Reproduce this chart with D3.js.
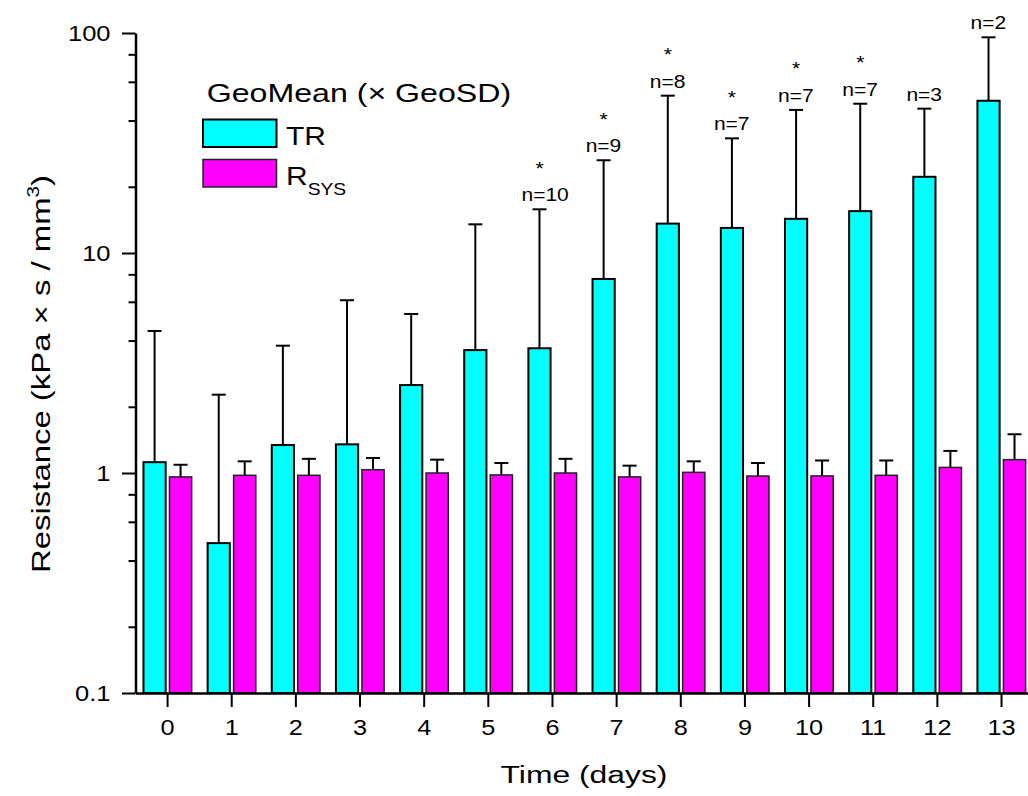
<!DOCTYPE html>
<html>
<head>
<meta charset="utf-8">
<script src="https://cdnjs.cloudflare.com/ajax/libs/d3/7.8.5/d3.min.js"></script>
<style>
body { margin: 0; background: #fff; }
svg { display: block; }
text { font-family: "Liberation Sans", Arial, sans-serif; fill: #000; }
</style>
</head>
<body>
<script>
// categories (days) and the two series
var days = [0, 1, 2, 3, 4, 5, 6, 7, 8, 9, 10, 11, 12, 13];
var trMean = [1.12, 0.48, 1.34, 1.35, 2.51, 3.62, 3.69, 7.62, 13.6, 13.0, 14.3, 15.5, 22.2, 49.2];
var trUpper = [4.42, 2.27, 3.79, 6.1, 5.28, 13.5, 15.8, 26.4, 51.9, 33.2, 44.7, 47.7, 45.3, 95.6];
var rsysMean = [0.96, 0.976, 0.976, 1.035, 1.0, 0.98, 1.0, 0.96, 1.007, 0.969, 0.97, 0.976, 1.06, 1.15];
var rsysUpper = [1.09, 1.13, 1.16, 1.17, 1.15, 1.11, 1.16, 1.08, 1.13, 1.11, 1.14, 1.14, 1.26, 1.5];
// annotations above the TR bars
var nLabels = ["", "", "", "", "", "", "n=10", "n=9", "n=8", "n=7", "n=7", "n=7", "n=3", "n=2"];
var starred = [false, false, false, false, false, false, true, true, true, true, true, true, false, false];
var seriesNames = ["TR", "RSYS"];
var seriesColors = ["#00ffff", "#ff00ff"];
var yMajorTicks = [0.1, 1, 10, 100];
var yMinorTicks = [0.2, 0.4, 0.6, 0.8, 2, 4, 6, 8, 20, 40, 60, 80];

var width = 1028;
var height = 796;
var plotLeft = 135.5;
var plotRight = 1033.6;
var plotTop = 33;
var plotBottom = 693;

var svg = d3.select("body")
			.append("svg")
			.attr("width", width)
			.attr("height", height);

var x0 = d3.scaleBand()
		   .domain(days)
		   .range([plotLeft, plotRight])
		   .padding(0);

var x1 = d3.scaleBand()
		   .domain(seriesNames)
		   .range([0, x0.bandwidth()])
		   .paddingInner(0.146)
		   .paddingOuter(0.307);

var y = d3.scaleLog()
		  .domain([0.1, 100])
		  .range([plotBottom, plotTop]);

var rows = days.map(function(d, i) {
	return {
		day: d,
		values: [
			{ key: "TR", mean: trMean[i], upper: trUpper[i] },
			{ key: "RSYS", mean: rsysMean[i], upper: rsysUpper[i] }
		]
	};
});

// text that is a bit wider than the font, like the original
function wideText(parent, x, yy, sx, size, str) {
	return parent.append("text")
		.attr("transform", "translate(" + x + "," + yy + ") scale(" + sx + ",1)")
		.style("font-size", size + "px")
		.text(str);
}

var groups = svg.selectAll("g.day")
	.data(rows)
	.enter()
	.append("g")
	.attr("class", "day")
	.attr("transform", function(d) { return "translate(" + x0(d.day) + ",0)"; });

// error bars (upper only)
groups.selectAll("line.err")
	.data(function(d) { return d.values; })
	.enter()
	.append("line")
	.attr("x1", function(d) { return x1(d.key) + x1.bandwidth() / 2; })
	.attr("x2", function(d) { return x1(d.key) + x1.bandwidth() / 2; })
	.attr("y1", function(d) { return y(d.mean); })
	.attr("y2", function(d) { return y(d.upper); })
	.style("stroke", "#000")
	.style("stroke-width", 2);

groups.selectAll("line.cap")
	.data(function(d) { return d.values; })
	.enter()
	.append("line")
	.attr("x1", function(d) { return x1(d.key) + x1.bandwidth() / 2 - 7; })
	.attr("x2", function(d) { return x1(d.key) + x1.bandwidth() / 2 + 7; })
	.attr("y1", function(d) { return y(d.upper); })
	.attr("y2", function(d) { return y(d.upper); })
	.style("stroke", "#000")
	.style("stroke-width", 2);

groups.selectAll("rect")
	.data(function(d) { return d.values; })
	.enter()
	.append("rect")
	.attr("x", function(d) { return x1(d.key); })
	.attr("y", function(d) { return y(d.mean); })
	.attr("width", x1.bandwidth())
	.attr("height", function(d) { return plotBottom - y(d.mean); })
	.style("fill", function(d) { return seriesColors[seriesNames.indexOf(d.key)]; })
	.style("stroke", function(d) { return d.key == "TR" ? "#000" : "#222"; })
	.style("stroke-width", function(d) { return d.key == "TR" ? 2 : 1.5; });

// n= labels and asterisks over TR
rows.forEach(function(d, i) {
	var cx = x0(d.day) + x1("TR") + x1.bandwidth() / 2;
	var capY = y(trUpper[i]);
	if (nLabels[i]) {
		wideText(svg, cx - 18, capY - 8, 1.2, 17.5, nLabels[i]);
	}
	if (starred[i]) {
		wideText(svg, cx, capY - 8 - 26.5, 1.2, 17.5, "*")
			.attr("text-anchor", "middle");
	}
});

// x axis
var xAxis = svg.append("g")
	.attr("transform", "translate(0," + plotBottom + ")")
	.call(d3.axisBottom(x0).tickSize(14).tickSizeOuter(0).tickPadding(12));
xAxis.select(".domain").style("stroke-width", 2.5);
xAxis.selectAll(".tick line").style("stroke-width", 2);
xAxis.selectAll("text")
	.style("font-size", "22px")
	.attr("transform", "scale(1.15,1)");

// y axis, majors with labels, minors without
var yMinor = svg.append("g")
	.attr("transform", "translate(" + plotLeft + ",0)")
	.call(d3.axisLeft(y).tickValues(yMinorTicks).tickSize(7).tickFormat(""));
yMinor.select(".domain").remove();
yMinor.selectAll(".tick line").style("stroke-width", 2);

var yAxis = svg.append("g")
	.attr("transform", "translate(" + plotLeft + ",0)")
	.call(d3.axisLeft(y).tickValues(yMajorTicks).tickSize(13.5).tickSizeOuter(0)
		.tickFormat(function(d) { return d3.format("~g")(d); }));
yAxis.select(".domain").style("stroke-width", 2.5);
yAxis.selectAll(".tick line").style("stroke-width", 2);
yAxis.selectAll("text")
	.style("font-size", "22px")
	.attr("x", -25 / 1.16)
	.attr("transform", "scale(1.16,1)");

// axis titles
wideText(svg, 584, 783, 1.3, 24.5, "Time (days)")
	.attr("text-anchor", "middle");

var yTitle = svg.append("text")
	.attr("transform", "translate(50,374) rotate(-90) scale(1.29,1)")
	.attr("text-anchor", "middle")
	.style("font-size", "25.5px");
yTitle.append("tspan").text("Resistance (kPa \u00d7 s / mm");
yTitle.append("tspan").attr("dy", -11).style("font-size", "16px").text("3");
yTitle.append("tspan").attr("dy", 11).text(")");

// legend
var legend = svg.append("g");
wideText(legend, 206.7, 102, 1.26, 25.5, "GeoMean (\u00d7 GeoSD)");

legend.selectAll("rect")
	.data(seriesNames)
	.enter()
	.append("rect")
	.attr("x", 203)
	.attr("y", function(d, i) { return 119.5 + i * 40; })
	.attr("width", 73.5)
	.attr("height", 27.5)
	.style("fill", function(d, i) { return seriesColors[i]; })
	.style("stroke", function(d, i) { return i == 0 ? "#000" : "#222"; })
	.style("stroke-width", function(d, i) { return i == 0 ? 2 : 1.5; });

wideText(legend, 286, 145, 1.2, 25, "TR");
var rsysLabel = wideText(legend, 286, 185, 1.2, 25, "");
rsysLabel.append("tspan").text("R");
rsysLabel.append("tspan").attr("dy", 10).style("font-size", "16px").text("SYS");
</script>
</body>
</html>
